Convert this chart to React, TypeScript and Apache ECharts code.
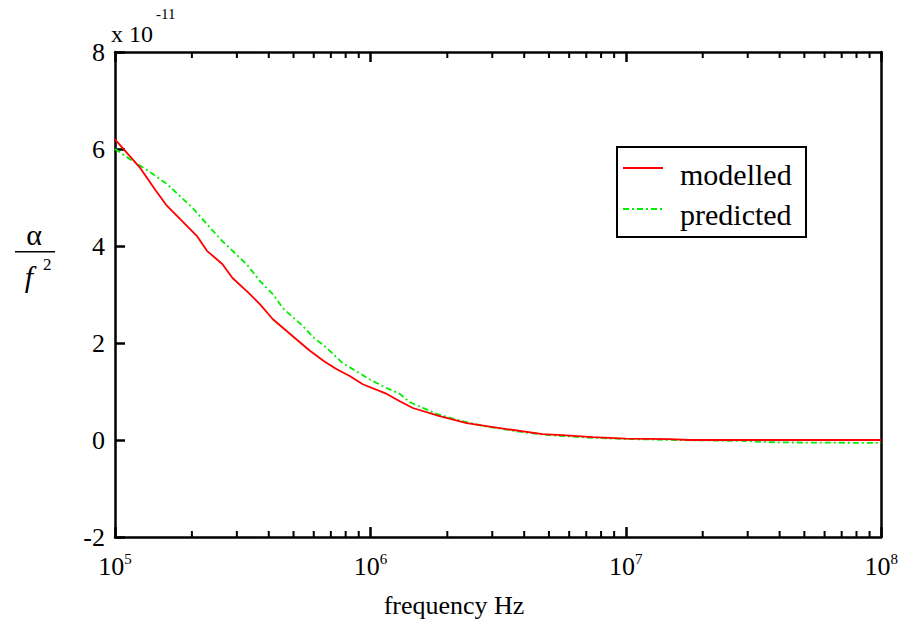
import React, { useEffect, useRef } from "react";
import * as echarts from "echarts";

// log10(frequency) and alpha/f^2 values (units of 1e-11)
const modelledExp = [5.0, 5.05, 5.1, 5.156, 5.2, 5.262, 5.32, 5.36, 5.42, 5.46, 5.52, 5.567, 5.618, 5.696, 5.763, 5.82, 5.868, 5.919, 5.97, 6.064, 6.115, 6.166, 6.271, 6.377, 6.5, 6.674, 6.75, 6.87, 7.0, 7.17, 7.25, 8.0];
const modelledVal = [6.2, 5.9, 5.6, 5.17, 4.85, 4.52, 4.21, 3.9, 3.63, 3.34, 3.05, 2.8, 2.49, 2.14, 1.84, 1.62, 1.46, 1.32, 1.15, 0.95, 0.8, 0.66, 0.49, 0.35, 0.25, 0.12, 0.1, 0.06, 0.03, 0.02, 0.0, 0.0];
const predictedExp = [5.0, 5.059, 5.13, 5.203, 5.25, 5.305, 5.36, 5.42, 5.47, 5.516, 5.567, 5.619, 5.657, 5.735, 5.78, 5.829, 5.89, 5.95, 5.997, 6.06, 6.115, 6.154, 6.259, 6.35, 6.45, 6.6, 6.7, 6.85, 7.0, 7.2, 7.45, 7.6, 8.0];
const predictedVal = [6.0, 5.79, 5.55, 5.28, 5.05, 4.78, 4.45, 4.1, 3.85, 3.62, 3.28, 3.0, 2.72, 2.35, 2.1, 1.9, 1.59, 1.4, 1.25, 1.08, 0.95, 0.78, 0.54, 0.4, 0.28, 0.16, 0.1, 0.05, 0.02, 0.0, -0.02, -0.05, -0.06];

const xMin = 1e5;
const xMax = 1e8;
const yMin = -2;
const yMax = 8;
const yStep = 2;
const majorExps = [5, 6, 7, 8];
const minorMantissas = [2, 3, 4, 5, 6, 7, 8, 9];
const decades = [5, 6, 7];

const FONT = "Liberation Serif";

export default function App() {
  const ref = useRef<HTMLDivElement>(null);
  useEffect(() => {
    if (!ref.current) return;
    const chart = echarts.init(ref.current, undefined, { renderer: "svg" });

    const axisLine = { show: true, onZero: false, lineStyle: { color: "#000", width: 2.5 } };
    const tick = { show: true, inside: true, length: 10, lineStyle: { color: "#000", width: 2.5 } };
    const option: any = {
      animation: false,
      backgroundColor: "#ffffff",
      textStyle: { fontFamily: FONT },
      grid: { left: 115, right: 19, top: 52, bottom: 95 },
      xAxis: [
        {
          type: "log",
          logBase: 10,
          min: xMin,
          max: xMax,
          position: "bottom",
          axisLine,
          axisTick: tick,
          splitLine: { show: false },
          axisLabel: {
            margin: 14,
            fontFamily: FONT,
            formatter: (v: number) => `{b|10}{s|${Math.round(Math.log10(v))}}`,
            rich: {
              b: { fontFamily: FONT, fontSize: 26, color: "#000", lineHeight: 30 },
              s: { fontFamily: FONT, fontSize: 15, color: "#000", verticalAlign: "top", lineHeight: 30 },
            },
          },
        },
        {
          type: "log",
          logBase: 10,
          min: xMin,
          max: xMax,
          position: "top",
          axisLine,
          axisTick: tick,
          splitLine: { show: false },
          axisLabel: { show: false },
        },
      ],
      yAxis: [
        {
          type: "value",
          min: yMin,
          max: yMax,
          interval: yStep,
          position: "left",
          axisLine,
          axisTick: tick,
          splitLine: { show: false },
          axisLabel: { fontFamily: FONT, fontSize: 26, color: "#000", margin: 10 },
        },
        {
          type: "value",
          min: yMin,
          max: yMax,
          interval: yStep,
          position: "right",
          axisLine,
          axisTick: { show: false },
          splitLine: { show: false },
          axisLabel: { show: false },
        },
      ],
      series: [
        {
          name: "modelled",
          type: "line",
          symbol: "none",
          data: modelledExp.map((e, i) => [Math.pow(10, e), modelledVal[i]]),
          lineStyle: { color: "#ff0000", width: 1.8 },
          itemStyle: { color: "#ff0000" },
          z: 3,
        },
        {
          name: "predicted",
          type: "line",
          symbol: "none",
          data: predictedExp.map((e, i) => [Math.pow(10, e), predictedVal[i]]),
          lineStyle: { color: "#00ee00", width: 1.8, type: [6, 3, 2, 3] },
          itemStyle: { color: "#00ee00" },
          z: 2,
        },
      ],
      graphic: [
        // x-axis title
        { type: "text", x: 454, y: 605, style: { text: "frequency Hz", fontFamily: FONT, fontSize: 26, fill: "#000", textAlign: "center", textVerticalAlign: "middle" } },
        // y-axis title alpha / f^2
        { type: "text", x: 34, y: 234, style: { text: "α", fontFamily: FONT, fontSize: 30, fill: "#000", textAlign: "center", textVerticalAlign: "middle" } },
        { type: "rect", shape: { x: 15, y: 251, width: 40, height: 1.5 }, style: { fill: "#000" } },
        { type: "text", x: 29, y: 276, style: { text: "f", fontFamily: FONT, fontStyle: "italic", fontSize: 30, fill: "#000", textAlign: "center", textVerticalAlign: "middle" } },
        { type: "text", x: 43, y: 264, style: { text: "2", fontFamily: FONT, fontSize: 17, fill: "#000", textAlign: "left", textVerticalAlign: "middle" } },
        // scale factor
        { type: "text", x: 111, y: 34, style: { text: "x 10", fontFamily: FONT, fontSize: 24, fill: "#000", textAlign: "left", textVerticalAlign: "middle" } },
        { type: "text", x: 156, y: 14, style: { text: "-11", fontFamily: FONT, fontSize: 15, fill: "#000", textAlign: "left", textVerticalAlign: "middle" } },
        // legend
        { type: "rect", shape: { x: 617, y: 147, width: 189, height: 90 }, style: { fill: "#fff", stroke: "#000", lineWidth: 2 }, z: 10 },
        { type: "line", shape: { x1: 623, y1: 168, x2: 663, y2: 168 }, style: { stroke: "#ff0000", lineWidth: 1.8 }, z: 11 },
        { type: "line", shape: { x1: 623, y1: 209, x2: 663, y2: 209 }, style: { stroke: "#00ee00", lineWidth: 1.8, lineDash: [6, 3, 2, 3] }, z: 11 },
        { type: "text", x: 680, y: 174, style: { text: "modelled", fontFamily: FONT, fontSize: 30, fill: "#000", textAlign: "left", textVerticalAlign: "middle" }, z: 11 },
        { type: "text", x: 680, y: 214, style: { text: "predicted", fontFamily: FONT, fontSize: 30, fill: "#000", textAlign: "left", textVerticalAlign: "middle" }, z: 11 },
      ],
    };
    chart.setOption(option);

    // minor tick marks placed through the axes' own scales
    const ticks: any[] = [];
    const minorList: number[] = [];
    decades.forEach((d) => minorMantissas.forEach((m) => minorList.push(m * Math.pow(10, d))));
    minorList.forEach((f) => {
      const b = chart.convertToPixel({ xAxisIndex: 0, yAxisIndex: 0 }, [f, yMin]) as number[];
      const t = chart.convertToPixel({ xAxisIndex: 0, yAxisIndex: 0 }, [f, yMax]) as number[];
      ticks.push({ type: "rect", shape: { x: b[0] - 1, y: b[1] - 6, width: 2, height: 6 }, style: { fill: "#000" }, z: 5 });
      ticks.push({ type: "rect", shape: { x: t[0] - 1, y: t[1], width: 2, height: 6 }, style: { fill: "#000" }, z: 5 });
    });
    chart.setOption({ graphic: [...option.graphic, ...ticks] });
    return () => chart.dispose();
  }, []);
  return <div ref={ref} style={{ width: 901, height: 632, position: "absolute", left: 0, top: 0 }} />;
}
